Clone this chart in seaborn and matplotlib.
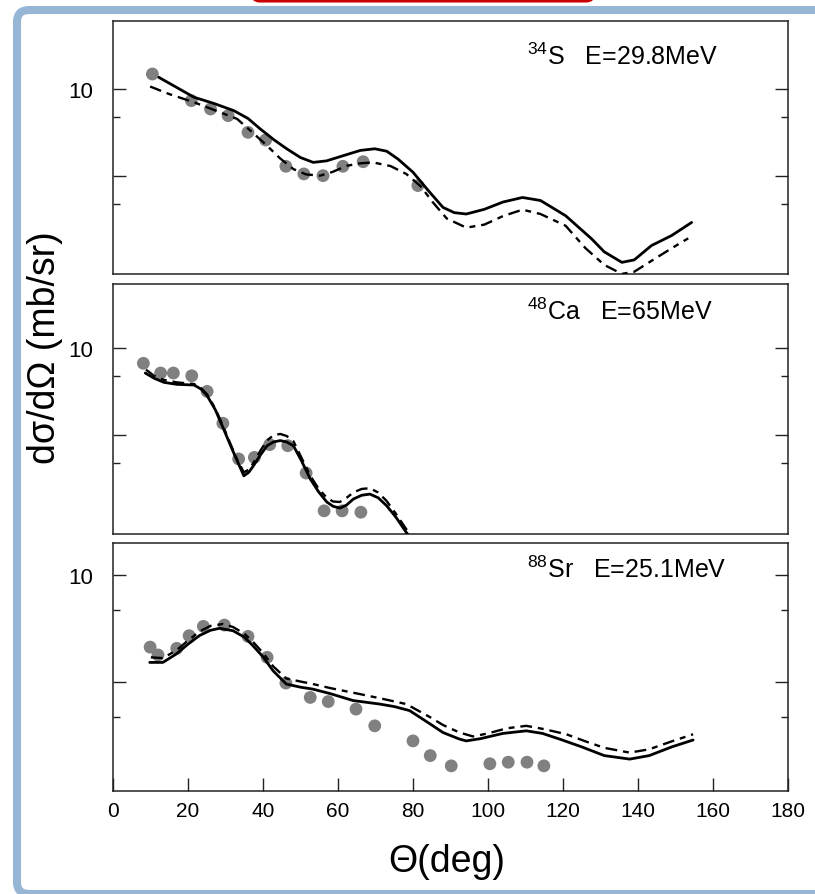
import pandas as pd
import matplotlib.pyplot as plt
import seaborn as sns
from matplotlib.patches import FancyBboxPatch
from matplotlib.transforms import Affine2D
from matplotlib.ticker import NullFormatter

# --- 34S, E=29.8 MeV ---
s_exp_x = [10.5, 20.9, 26.0, 30.7, 36.0, 40.7, 46.1, 50.9, 56.0, 61.3, 66.7, 81.3]
s_exp_y = [11.27, 9.11, 8.52, 8.08, 7.07, 6.65, 5.39, 5.07, 5.00, 5.39, 5.59, 4.62]
s_sol_x = [12.2, 21.6, 27, 32.2, 36, 39.3, 43, 46.4, 50, 53.4, 57, 62, 66, 69.8, 73, 76, 80,
           84, 88, 91, 94.2, 99, 104, 109.2, 114, 120.7, 127.6, 131, 135.7, 139, 143.6, 149, 154.3]
s_sol_y = [10.98, 9.36, 8.9, 8.41, 7.9, 7.26, 6.65, 6.19, 5.78, 5.56, 5.63, 5.9, 6.12, 6.2, 6.08, 5.71, 5.14,
           4.45, 3.88, 3.72, 3.68, 3.82, 4.05, 4.20, 4.10, 3.63, 3.02, 2.72, 2.50, 2.55, 2.86, 3.10, 3.44]
s_dash_x = [9.9, 15, 21.6, 27, 33.1, 37, 41.1, 44.5, 48.1, 51.5, 55.2, 58.5, 62.3, 66, 69.3, 74, 78.2,
            82, 85.3, 89, 94.2, 99, 104, 109.2, 114, 120.7, 126, 131, 135.7, 139, 144, 149, 153.4]
s_dash_y = [10.2, 9.6, 8.99, 8.45, 7.87, 7.1, 6.35, 5.75, 5.27, 5.05, 5.00, 5.15, 5.41, 5.52, 5.56, 5.4, 5.07,
            4.6, 4.04, 3.55, 3.30, 3.38, 3.62, 3.81, 3.68, 3.35, 2.8, 2.45, 2.28, 2.32, 2.55, 2.8, 3.03]

# --- 48Ca, E=65 MeV ---
ca_exp_x = [8.1, 12.7, 16.1, 21.0, 25.1, 29.3, 33.5, 37.7, 41.8, 46.6, 51.5, 56.3, 61.1, 66.1]
ca_exp_y = [8.85, 8.19, 8.19, 8.01, 7.07, 5.48, 4.12, 4.17, 4.62, 4.58, 3.68, 2.72, 2.72, 2.69]
ca_sol_x = [8.6, 11, 13.6, 17, 21.6, 23.5, 25.1, 27.3, 29.5, 31.3, 33.1, 34.9, 36.2, 37.5, 39.3, 41.1,
            42.8, 44.6, 46.3, 48.1, 50.3, 52.6, 54.8, 57, 58.7, 60.5, 62.3, 64.1, 66.3, 68.5, 70.7,
            72.9, 75.5, 78.2, 79.5]
ca_sol_y = [8.19, 7.85, 7.60, 7.48, 7.44, 7.2, 6.83, 6.1, 5.23, 4.6, 4.06, 3.60, 3.70, 3.91, 4.25, 4.58,
            4.72, 4.77, 4.72, 4.58, 4.05, 3.51, 3.17, 2.92, 2.82, 2.78, 2.85, 2.99, 3.08, 3.11, 3.02,
            2.84, 2.58, 2.29, 2.18]
ca_dash_x = [8.8, 11, 13.6, 17, 21.6, 23.5, 25.1, 27.3, 29.5, 31.3, 33.1, 34.9, 36.2, 37.5, 39.3, 41.1,
             42.8, 44.6, 46.3, 48.1, 50.3, 52.6, 54.8, 57, 58.7, 60.5, 62.3, 64.1, 66.3, 68.5, 70.7,
             72.9, 75.5, 78.2, 79.7]
ca_dash_y = [8.41, 8.0, 7.75, 7.6, 7.5, 7.25, 6.9, 6.15, 5.3, 4.65, 4.1, 3.7, 3.78, 4.0, 4.4, 4.78,
             4.98, 5.03, 4.95, 4.75, 4.15, 3.6, 3.25, 3.02, 2.93, 2.92, 3.02, 3.15, 3.24, 3.26, 3.15,
             2.95, 2.65, 2.35, 2.2]

# --- 88Sr, E=25.1 MeV ---
sr_exp_x = [9.9, 12.0, 17.0, 20.3, 24.1, 29.7, 36.0, 41.1, 46.1, 52.6, 57.4, 64.8, 69.8, 80.0,
            84.6, 90.2, 100.5, 105.4, 110.4, 114.9]
sr_exp_y = [6.28, 5.97, 6.23, 6.76, 7.18, 7.24, 6.73, 5.88, 4.98, 4.54, 4.42, 4.21, 3.78, 3.43,
            3.12, 2.92, 2.96, 2.99, 2.99, 2.92]
sr_sol_x = [9.8, 13.3, 16.9, 20, 23.1, 26, 28.4, 32, 35, 37.3, 40, 42.7, 46.2, 50, 53.3, 58, 64,
            71.1, 75, 79.1, 84.5, 88, 92.4, 94.2, 98, 104, 110.2, 114.5, 119.1, 125, 131, 137.8,
            143, 149, 154.7]
sr_sol_y = [5.69, 5.69, 6.01, 6.4, 6.77, 7.0, 7.09, 6.98, 6.7, 6.34, 5.9, 5.39, 4.95, 4.85, 4.79, 4.65, 4.45,
            4.35, 4.28, 4.17, 3.83, 3.62, 3.47, 3.43, 3.48, 3.6, 3.66, 3.6, 3.47, 3.3, 3.12, 3.05,
            3.12, 3.3, 3.45]
sr_dash_x = [10.1, 13.3, 16.9, 20, 23.1, 26, 29.3, 32, 35, 37.3, 40, 42.7, 46.2, 50, 53.3, 58, 65.8,
             71, 78.2, 84.5, 88, 92.4, 96, 100, 105, 110.2, 115, 120.9, 126, 131, 137.8, 143, 149, 154.7]
sr_dash_y = [5.88, 5.85, 6.15, 6.55, 6.95, 7.2, 7.29, 7.15, 6.85, 6.5, 6.05, 5.55, 5.13, 5.03, 4.95, 4.82, 4.64,
             4.52, 4.35, 4.0, 3.8, 3.62, 3.53, 3.6, 3.72, 3.78, 3.7, 3.58, 3.42, 3.28, 3.18, 3.25, 3.42, 3.58]

labels = [r"$^{34}$S   E=29.8MeV", r"$^{48}$Ca   E=65MeV", r"$^{88}$Sr   E=25.1MeV"]
x_ticks = list(range(0, 181, 20))

sns.set_theme(style="ticks")
plt.rcParams["font.family"] = ["Liberation Sans", "DejaVu Sans"]
plt.rcParams["mathtext.fontset"] = "custom"
plt.rcParams["mathtext.rm"] = "Liberation Sans"
plt.rcParams["mathtext.it"] = "Liberation Sans"
plt.rcParams["text.color"] = "black"
plt.rcParams["xtick.labelcolor"] = "black"
plt.rcParams["ytick.labelcolor"] = "black"

W, H = 815, 895
fig = plt.figure(figsize=(W / 100, H / 100), dpi=100, facecolor="white")
px = Affine2D().scale(1 / W, 1 / H) + fig.transFigure

# decorative frame from the source page
fig.add_artist(FancyBboxPatch((17, 0), 830, H - 11, boxstyle="round,pad=0,rounding_size=12",
                              transform=px, facecolor="white", edgecolor="#97b6d5", linewidth=5.8, zorder=0))
fig.add_artist(FancyBboxPatch((252, H - 2), 342, 40, boxstyle="round,pad=0,rounding_size=8",
                              transform=px, facecolor="white", edgecolor="#c80000", linewidth=2.2, zorder=0))

panels = [
    (22, 275, (2.278, 17.22), s_exp_x, s_exp_y, s_sol_x, s_sol_y, s_dash_x, s_dash_y, 0.83),
    (285, 535, (2.26, 16.69), ca_exp_x, ca_exp_y, ca_sol_x, ca_sol_y, ca_dash_x, ca_dash_y, 0.86),
    (544, 792, (2.483, 12.29), sr_exp_x, sr_exp_y, sr_sol_x, sr_sol_y, sr_dash_x, sr_dash_y, 0.863),
]

for i, (top, bot, ylim, ex, ey, sx, sy, dx, dy, ly) in enumerate(panels):
    ax = fig.add_axes([113 / W, 1 - bot / H, 675 / W, (bot - top) / H])
    ax.set_facecolor("white")
    sns.scatterplot(x=ex, y=ey, ax=ax, color="#808080", s=85, edgecolor="none", zorder=2)
    sns.lineplot(x=sx, y=sy, ax=ax, color="black", linewidth=2.0, estimator=None, zorder=3)
    sns.lineplot(x=dx, y=dy, ax=ax, color="black", linewidth=1.7, estimator=None, zorder=3,
                 linestyle=(0, (5, 2.5, 2.5, 2.5)))
    ax.set_yscale("log")
    ax.set_xlim(0, 180)
    ax.set_ylim(*ylim)
    ax.set_yticks([5, 10], labels=["", "10"])
    ax.set_yticks([4, 8], minor=True)
    ax.yaxis.set_minor_formatter(NullFormatter())
    ax.tick_params(axis="y", which="both", direction="in", left=True, right=True,
                   width=1.0, color="#222222", labelsize=16, pad=14)
    ax.tick_params(axis="y", which="major", length=9.5)
    ax.tick_params(axis="y", which="minor", length=5)
    ax.set_xticks(x_ticks)
    if i == 2:
        ax.tick_params(axis="x", direction="in", length=9.5, width=1.0, color="#222222",
                       labelsize=15, pad=7, top=False)
    else:
        ax.tick_params(axis="x", bottom=False, labelbottom=False)
    for sp in ax.spines.values():
        sp.set_visible(True)
        sp.set_linewidth(1.1)
        sp.set_color("#222222")
    ax.set_xlabel("")
    ax.set_ylabel("")
    ax.text(0.613, ly, labels[i], transform=ax.transAxes, fontsize=18,
            color="black", va="baseline", ha="left")

fig.text(45 / W, 1 - 348 / H, "dσ/dΩ (mb/sr)", rotation=90, fontsize=27, ha="center", va="center")
fig.text(447 / W, 1 - 862 / H, "Θ(deg)", fontsize=27, ha="center", va="center")

fig.savefig("out.png", dpi=100, facecolor="white")
